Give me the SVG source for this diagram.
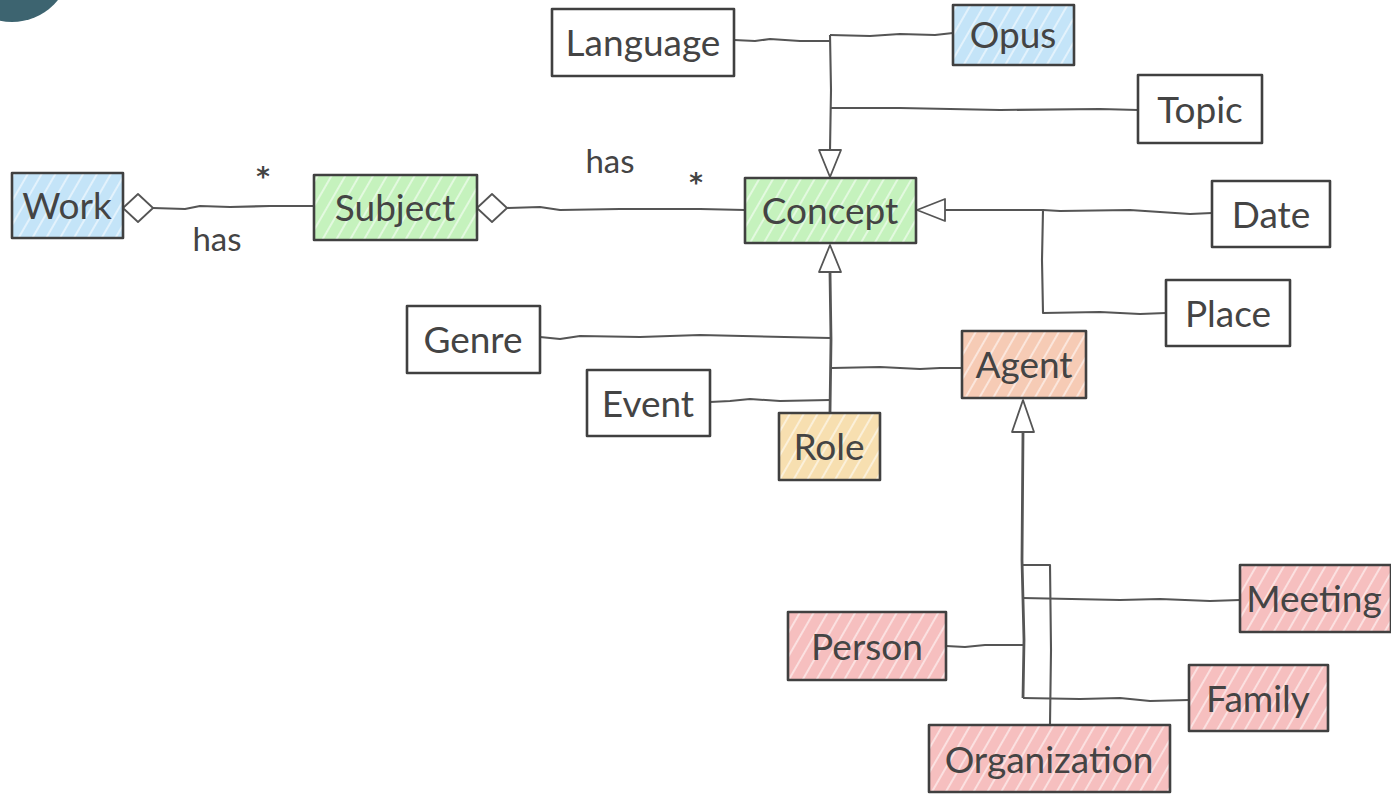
<svg xmlns="http://www.w3.org/2000/svg" width="1391" height="794" viewBox="0 0 1391 794">
  <style>
    .box { stroke: #404040; stroke-width: 2.6; stroke-linejoin: round; }
    .edge { fill: none; stroke: #555; stroke-width: 2.1; stroke-linejoin: round; }
    .head { fill: #fff; stroke: #555; stroke-width: 1.8; stroke-linejoin: round; }
    .lbl { font-family: Lato, "Open Sans", sans-serif; font-size: 37px; fill: #444; text-anchor: middle; }
    .note { font-family: Lato, "Open Sans", sans-serif; font-size: 33px; fill: #444; text-anchor: middle; }
    .star { font-family: "DejaVu Sans", sans-serif; font-size: 26px; font-weight: bold; fill: #444; text-anchor: middle; }
  </style>
  <defs>
    <pattern id="hatch-blue" width="12" height="12" patternUnits="userSpaceOnUse" patternTransform="rotate(30)">
      <rect width="12" height="12" fill="#c4e4f8"/>
      <line x1="3" y1="0" x2="3" y2="12" stroke="#fff" stroke-width="1.4" opacity="0.75"/>
    </pattern>
    <pattern id="hatch-green" width="12" height="12" patternUnits="userSpaceOnUse" patternTransform="rotate(30)">
      <rect width="12" height="12" fill="#c5f2bd"/>
      <line x1="3" y1="0" x2="3" y2="12" stroke="#fff" stroke-width="1.4" opacity="0.75"/>
    </pattern>
    <pattern id="hatch-orange" width="12" height="12" patternUnits="userSpaceOnUse" patternTransform="rotate(30)">
      <rect width="12" height="12" fill="#f7dfb0"/>
      <line x1="3" y1="0" x2="3" y2="12" stroke="#fff" stroke-width="1.4" opacity="0.75"/>
    </pattern>
    <pattern id="hatch-salmon" width="12" height="12" patternUnits="userSpaceOnUse" patternTransform="rotate(30)">
      <rect width="12" height="12" fill="#f6cbb5"/>
      <line x1="3" y1="0" x2="3" y2="12" stroke="#fff" stroke-width="1.4" opacity="0.75"/>
    </pattern>
    <pattern id="hatch-pink" width="12" height="12" patternUnits="userSpaceOnUse" patternTransform="rotate(30)">
      <rect width="12" height="12" fill="#f6bfbf"/>
      <line x1="3" y1="0" x2="3" y2="12" stroke="#fff" stroke-width="1.4" opacity="0.75"/>
    </pattern>
  </defs>

  <rect width="1391" height="794" fill="#fff"/>
  <!-- corner badge -->
  <circle cx="12" cy="-37" r="59" fill="#3d6470"/>

  <!-- connectors -->
  <g id="connectors">
    <!-- Work <>- Subject -->
    <polyline class="edge" points="153,208 185,209 200,206 230,207 270,206 314,206"/>
    <polygon class="head" points="123,208 138,194 153,208 138,222"/>
    <text class="star" x="263" y="186">*</text>
    <text class="note" x="217" y="251">has</text>

    <!-- Subject <>- Concept -->
    <polyline class="edge" points="507,208 540,207 560,210 620,209 700,209 745,210"/>
    <polygon class="head" points="477,208 492,194 507,208 492,222"/>
    <text class="note" x="610" y="173">has</text>
    <text class="star" x="696" y="192">*</text>

    <!-- Language / Opus / Topic generalize to Concept -->
    <polyline class="edge" points="734,40 755,41 770,39 800,41 830,41"/>
    <polyline class="edge" points="953,33 935,35 900,34 870,36 830,35"/>
    <polyline class="edge" points="1138,110 1100,109 1000,110 900,108 830,108"/>
    <polyline class="edge" points="830,35 831,90 830,150"/>
    <polygon class="head" points="830,177 819,150 841,150"/>

    <!-- Date / Place generalize to Concept -->
    <polyline class="edge" points="1212,213 1190,214 1130,210 1060,211 1043,210 945,210"/>
    <polyline class="edge" points="1166,313 1140,314 1100,312 1043,313 1042,260 1043,210"/>
    <polygon class="head" points="917,210 945,199 945,221"/>

    <!-- Genre / Event / Agent / Role generalize to Concept -->
    <polyline class="edge" points="830,272 831,340 830,412" style="stroke-width:2.8"/>
    <polygon class="head" points="830,245 819,272 841,272"/>
    <polyline class="edge" points="540,337 560,339 580,336 640,337 700,335 830,338"/>
    <polyline class="edge" points="710,402 730,401 750,399 780,401 830,400"/>
    <polyline class="edge" points="962,368 940,368 920,369 880,367 832,368"/>

    <!-- Meeting / Person / Family / Organization generalize to Agent -->
    <polygon class="head" points="1023,400 1012,432 1034,432"/>
    <polyline class="edge" points="1023,432 1022,560 1024,640 1023,698" style="stroke-width:2.8"/>
    <polyline class="edge" points="1023,565 1050,565 1051,650 1050,724"/>
    <polyline class="edge" points="1240,600 1210,601 1160,599 1120,600 1023,598"/>
    <polyline class="edge" points="946,646 965,647 985,645 1023,645"/>
    <polyline class="edge" points="1189,700 1150,701 1120,698 1080,699 1023,698"/>
  </g>

  <g id="node-work">
    <rect class="box" x="12" y="173" width="111" height="65" fill="url(#hatch-blue)"/>
    <text class="lbl" x="67" y="219">Work</text>
  </g>
  <g id="node-subject">
    <rect class="box" x="314" y="175" width="163" height="65" fill="url(#hatch-green)"/>
    <text class="lbl" x="395" y="221">Subject</text>
  </g>
  <g id="node-concept">
    <rect class="box" x="745" y="178" width="171" height="65" fill="url(#hatch-green)"/>
    <text class="lbl" x="830" y="224">Concept</text>
  </g>
  <g id="node-language">
    <rect class="box" x="552" y="9" width="182" height="67" fill="#fff"/>
    <text class="lbl" x="643" y="56">Language</text>
  </g>
  <g id="node-opus">
    <rect class="box" x="953" y="5" width="121" height="60" fill="url(#hatch-blue)"/>
    <text class="lbl" x="1013" y="48">Opus</text>
  </g>
  <g id="node-topic">
    <rect class="box" x="1138" y="75" width="124" height="68" fill="#fff"/>
    <text class="lbl" x="1200" y="123">Topic</text>
  </g>
  <g id="node-date">
    <rect class="box" x="1212" y="181" width="118" height="66" fill="#fff"/>
    <text class="lbl" x="1271" y="228">Date</text>
  </g>
  <g id="node-place">
    <rect class="box" x="1166" y="280" width="124" height="66" fill="#fff"/>
    <text class="lbl" x="1228" y="327">Place</text>
  </g>
  <g id="node-genre">
    <rect class="box" x="407" y="306" width="133" height="67" fill="#fff"/>
    <text class="lbl" x="473" y="353">Genre</text>
  </g>
  <g id="node-event">
    <rect class="box" x="587" y="370" width="123" height="66" fill="#fff"/>
    <text class="lbl" x="648" y="417">Event</text>
  </g>
  <g id="node-role">
    <rect class="box" x="779" y="413" width="101" height="67" fill="url(#hatch-orange)"/>
    <text class="lbl" x="829" y="460">Role</text>
  </g>
  <g id="node-agent">
    <rect class="box" x="962" y="331" width="124" height="67" fill="url(#hatch-salmon)"/>
    <text class="lbl" x="1024" y="378">Agent</text>
  </g>
  <g id="node-meeting">
    <rect class="box" x="1240" y="565" width="151" height="67" fill="url(#hatch-pink)"/>
    <text class="lbl" x="1314" y="612">Meeting</text>
  </g>
  <g id="node-person">
    <rect class="box" x="788" y="612" width="158" height="68" fill="url(#hatch-pink)"/>
    <text class="lbl" x="867" y="660">Person</text>
  </g>
  <g id="node-family">
    <rect class="box" x="1189" y="665" width="139" height="66" fill="url(#hatch-pink)"/>
    <text class="lbl" x="1258" y="712">Family</text>
  </g>
  <g id="node-organization">
    <rect class="box" x="929" y="725" width="241" height="67" fill="url(#hatch-pink)"/>
    <text class="lbl" x="1049" y="773">Organization</text>
  </g>
</svg>
